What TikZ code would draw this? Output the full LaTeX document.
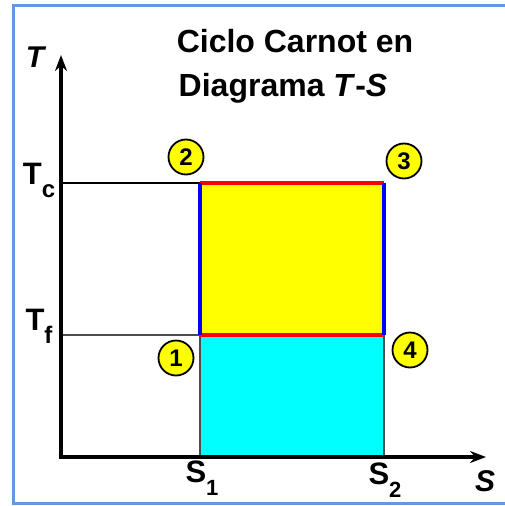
\documentclass[tikz,border=0pt]{standalone}
\usepackage{fontspec}
\setmainfont{Liberation Sans}
\usetikzlibrary{arrows.meta}
\definecolor{frameblue}{RGB}{100,150,225}
\definecolor{cyanfill}{RGB}{0,255,255}
\definecolor{yellowfill}{RGB}{255,255,0}
\definecolor{redline}{RGB}{255,0,0}
\definecolor{blueline}{RGB}{0,0,255}
\tikzset{
  axis/.style={line width=4pt,-{Stealth[length=16pt,width=12pt]}},
  level/.style={line width=2pt},
  num/.style={circle,draw=black,line width=1.8pt,fill=yellowfill,minimum size=35pt,inner sep=0pt,font=\bfseries\fontsize{24}{24}\selectfont},
  lab/.style={font=\bfseries\fontsize{31}{31}\selectfont,inner sep=0pt},
  title/.style={font=\bfseries\fontsize{32}{32}\selectfont,inner sep=0pt,anchor=base},
}
\begin{document}
\begin{tikzpicture}[x=1pt,y=-1pt]
\useasboundingbox (0,0) rectangle (504,506);
\fill[white] (0,0) rectangle (504,506);
\draw[frameblue,line width=3pt] (510,5) -- (13,5) -- (13,503) -- (510,503);
% key points
\coordinate (o) at (61,457);
\coordinate (tc) at (61,183);
\coordinate (tf) at (61,335);
\coordinate (p1) at (200,335);
\coordinate (p2) at (200,183);
\coordinate (p3) at (384,183);
\coordinate (p4) at (384,335);
\coordinate (s1) at (200,457);
\coordinate (s2) at (384,457);
\coordinate (ytip) at (61,55);
\coordinate (xtip) at (486,457);
% areas
\fill[cyanfill] (p1) rectangle (s2);
\draw[black!70,line width=1.2pt] (s1) -- (p1) (p4) -- (s2);
\fill[yellowfill] (p2) rectangle (p4);
% level lines
\draw[level,black] (tc) -- (p2);
\draw[level,black!70] (tf) -- (p1);
% cycle edges
\draw[redline,line width=4pt] (p2) -- (p3) (p1) -- (p4);
\draw[blueline,line width=4pt] (p1) -- (p2) (p3) -- (p4);
% axes
\draw[axis] (o) -- (ytip);
\draw[axis] ([xshift=-2pt]o) -- (xtip);
% labels
\node[lab] (ltc) at (39,180) {T\raisebox{-0.42em}{\fontsize{24}{24}\selectfont c}};
\node[lab] (ltf) at (39,326) {T\raisebox{-0.42em}{\fontsize{24}{24}\selectfont f}};
\node[lab] (ls1) at (202,478) {S\raisebox{-0.42em}{\fontsize{22}{22}\selectfont 1}};
\node[lab] (ls2) at (385,480) {S\raisebox{-0.42em}{\fontsize{22}{22}\selectfont 2}};
\node[lab,font=\bfseries\itshape\fontsize{30}{30}\selectfont] (ls) at (485,481) {S};
\node[lab,font=\bfseries\itshape\fontsize{30}{30}\selectfont] (lt) at (35,57) {T};
% title
\node[title] (t1) at (295,52) {Ciclo Carnot en};
\node[title] (t2) at (283,96) {Diagrama \textit{T}-\textit{S}};
% state numbers
\node[num] (n2) at (186,157) {2};
\node[num] (n3) at (404,161) {3};
\node[num] (n1) at (176,358) {1};
\node[num] (n4) at (410,350) {4};
\end{tikzpicture}
\end{document}
